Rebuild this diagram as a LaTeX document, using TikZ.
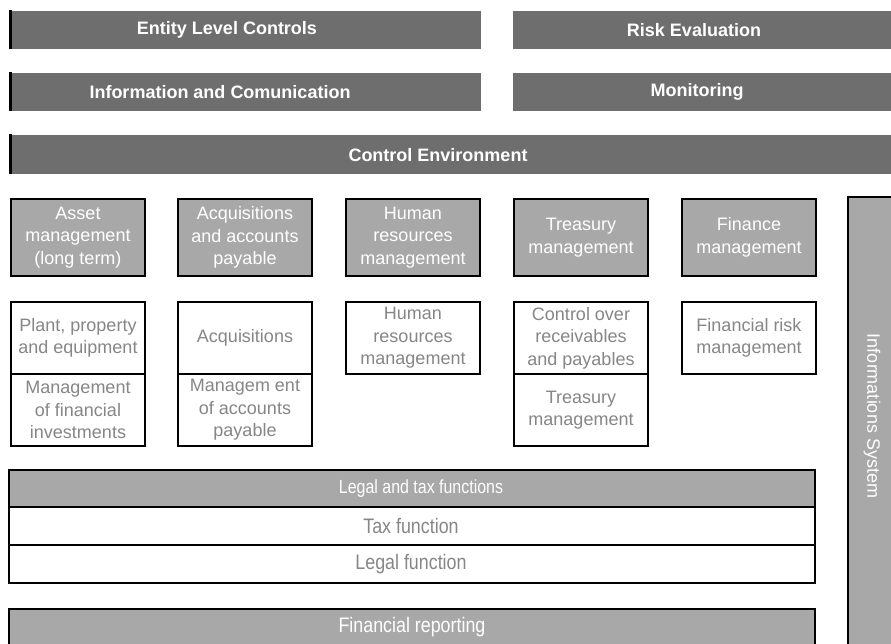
\documentclass[tikz,border=0pt]{standalone}
\usepackage{fontspec}
\setmainfont{Liberation Sans}
\usepackage{graphicx}
\definecolor{bardark}{HTML}{6E6E6E}
\definecolor{boxgray}{HTML}{A8A8A8}
\definecolor{txtgray}{HTML}{868686}
\tikzset{
  bar/.style={fill=bardark},
  baredge/.style={line width=3pt},
  bartext/.style={text=white, font=\fontsize{18}{22.5}\selectfont\bfseries, inner sep=0pt},
  cell/.style={draw=black, line width=2pt, minimum width=134pt, inner sep=0pt,
    align=center, anchor=north west},
  greycell/.style={cell, fill=boxgray, text=white},
  whitecell/.style={cell, fill=white, text=txtgray},
  strip/.style={draw=black, line width=2pt},
  narrow/.style={inner sep=0pt, font=\fontsize{21}{24}\selectfont}
}
\newcommand{\thin}[2]{\scalebox{#1}[1]{#2}}
\begin{document}
\begin{tikzpicture}[x=1pt,y=-1pt,font=\fontsize{18}{22.5}\selectfont]
  \useasboundingbox (0,0) rectangle (891,643);
  \clip (0,0) rectangle (891,643);
  % header bars
  \fill[bar] (9,11) rectangle (481,49);
  \fill[bar] (513,11) rectangle (895,49);
  \fill[bar] (9,73) rectangle (481,111);
  \fill[bar] (513,73) rectangle (895,111);
  \fill[bar] (9,135) rectangle (895,174);
  \draw[baredge] (10.5,10)--(10.5,49);
  \draw[baredge] (10.5,72)--(10.5,111);
  \draw[baredge] (10.5,134)--(10.5,174);
  \node[bartext] (ent) at (227,30) {Entity Level Controls};
  \node[bartext] (risk) at (694,30) {Risk Evaluation};
  \node[bartext] (info) at (220,92) {Information and Comunication};
  \node[bartext] (moni) at (697,92) {Monitoring};
  \node[bartext] (ctrl) at (438,155) {Control Environment};
  % process areas
  \node[greycell, minimum height=77pt] (asset) at (10,198) {Asset\\management\\(long term)};
  \node[greycell, minimum height=77pt] (acq) at (177,198) {Acquisitions\\and accounts\\payable};
  \node[greycell, minimum height=77pt] (hr) at (345,198) {Human\\resources\\management};
  \node[greycell, minimum height=77pt] (treas) at (513,198) {Treasury\\management};
  \node[greycell, minimum height=77pt] (fin) at (681,198) {Finance\\management};
  % sub processes
  \node[whitecell, minimum height=72pt] (ppe) at (10,301) {Plant, property\\and equipment};
  \node[whitecell, minimum height=72pt] (mfi) at (10,373) {Management\\of financial\\investments};
  \node[whitecell, minimum height=72pt] (acqs) at (177,301) {Acquisitions};
  \node[whitecell, minimum height=72pt] (map) at (177,373) {Managem ent\\of accounts\\payable};
  \node[whitecell, minimum height=72pt] (hrm) at (345,301) {Human\\resources\\management};
  \node[whitecell, minimum height=72pt] (crp) at (513,301) {Control over\\receivables\\and payables};
  \node[whitecell, minimum height=72pt] (tm) at (513,373) {Treasury\\management};
  \node[whitecell, minimum height=72pt] (frm) at (681,301) {Financial risk\\management};
  % legal and tax block
  \draw[strip, fill=boxgray] (9,470) rectangle (815,507);
  \draw[strip, fill=white] (9,507) rectangle (815,545);
  \draw[strip, fill=white] (9,545) rectangle (815,583);
  \node[narrow, text=white, font=\fontsize{19}{22}\selectfont] (legtax) at (421,489) {\thin{0.84}{Legal and tax functions}};
  \node[narrow, text=txtgray] (tax) at (411,526) {\thin{0.85}{Tax function}};
  \node[narrow, text=txtgray] (legal) at (411,564) {\thin{0.85}{Legal function}};
  % financial reporting
  \draw[strip, fill=boxgray] (9,609) rectangle (815,660);
  \node[narrow, text=white] (finrep) at (412,627) {\thin{0.85}{Financial reporting}};
  % information system
  \draw[strip, fill=boxgray] (848,197) rectangle (900,660);
  \node[text=white, inner sep=0pt, rotate=-90] (infosys) at (872,416) {Informations System};
\end{tikzpicture}
\end{document}
